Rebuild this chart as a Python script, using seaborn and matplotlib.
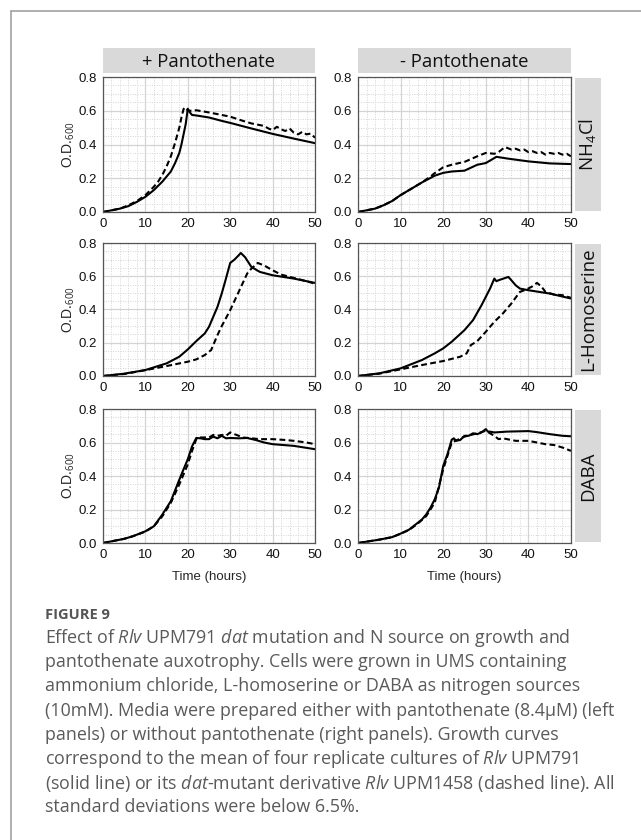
import numpy as np
import pandas as pd
import matplotlib
matplotlib.use("Agg")
import matplotlib.pyplot as plt
from matplotlib.ticker import MultipleLocator
from matplotlib.lines import Line2D
import seaborn as sns

sns.set_style("white")
plt.rcParams['font.family'] = ['Liberation Sans', 'DejaVu Sans']
plt.rcParams['mathtext.fontset'] = 'custom'
plt.rcParams['mathtext.rm'] = 'Open Sans'
plt.rcParams['mathtext.it'] = 'Open Sans:italic'

# ---------------- data (O.D.600 vs time in hours) ----------------
col_labels = ["+ Pantothenate", "- Pantothenate"]
row_labels = ["NH$_4$Cl", "L-Homoserine", "DABA"]
x_ticks = [0, 10, 20, 30, 40, 50]
y_ticks = [0.0, 0.2, 0.4, 0.6, 0.8]

# + Pantothenate, NH4Cl
t_pn_wt = [0, 2, 4, 6, 8, 10, 12, 14, 15, 16, 17, 18, 18.5, 19, 19.5, 20, 20.5, 21, 22, 25, 28, 30, 35, 40, 45, 50]
od_pn_wt = [0.0, 0.01, 0.02, 0.035, 0.06, 0.09, 0.13, 0.18, 0.21, 0.24, 0.29, 0.35, 0.40, 0.46, 0.52, 0.612, 0.59, 0.575, 0.572, 0.56, 0.54, 0.528, 0.495, 0.463, 0.435, 0.408]
t_pn_mu = [0, 2, 4, 6, 8, 10, 12, 13, 14, 15, 16, 17, 18, 18.5, 19, 19.5, 20, 21, 22, 25, 28, 30, 33, 35, 37, 38, 39, 40, 41, 42, 43, 44, 45, 46, 47, 48, 49, 50]
od_pn_mu = [0.0, 0.01, 0.02, 0.04, 0.065, 0.10, 0.15, 0.18, 0.22, 0.27, 0.33, 0.41, 0.50, 0.56, 0.61, 0.62, 0.60, 0.60, 0.603, 0.59, 0.575, 0.565, 0.54, 0.525, 0.515, 0.51, 0.495, 0.485, 0.505, 0.49, 0.48, 0.495, 0.47, 0.46, 0.475, 0.46, 0.465, 0.44]

# - Pantothenate, NH4Cl
t_mn_wt = [0, 2, 4, 6, 8, 10, 12, 15, 18, 20, 22, 25, 28, 30, 32.5, 35, 40, 45, 50]
od_mn_wt = [0.0, 0.01, 0.02, 0.04, 0.065, 0.10, 0.13, 0.175, 0.215, 0.232, 0.24, 0.245, 0.28, 0.29, 0.327, 0.317, 0.30, 0.288, 0.284]
t_mn_mu = [0, 2, 4, 6, 8, 10, 12, 15, 17, 18, 20, 22, 25, 28, 30, 32, 33, 34.5, 36, 37, 38, 39, 40, 41, 42, 43, 44, 45, 46, 47, 48, 49, 50]
od_mn_mu = [0.0, 0.01, 0.02, 0.04, 0.065, 0.10, 0.13, 0.175, 0.21, 0.23, 0.265, 0.28, 0.297, 0.33, 0.35, 0.345, 0.355, 0.385, 0.37, 0.375, 0.365, 0.37, 0.355, 0.36, 0.35, 0.355, 0.34, 0.35, 0.345, 0.35, 0.34, 0.345, 0.33]

# + Pantothenate, L-Homoserine
t_ph_wt = [0, 5, 10, 15, 18, 20, 22, 24, 25, 27, 28, 29, 30, 31, 32, 32.5, 33.5, 35, 37, 40, 45, 50]
od_ph_wt = [0.0, 0.014, 0.036, 0.076, 0.116, 0.16, 0.21, 0.256, 0.296, 0.416, 0.496, 0.586, 0.68, 0.70, 0.726, 0.74, 0.715, 0.656, 0.626, 0.606, 0.586, 0.56]
t_ph_mu = [0, 5, 10, 15, 20, 22, 24, 25.5, 26, 27, 28, 30, 32, 34, 35, 36.5, 38, 40, 42, 45, 48, 50]
od_ph_mu = [0.0, 0.012, 0.035, 0.06, 0.086, 0.10, 0.126, 0.156, 0.186, 0.246, 0.30, 0.396, 0.506, 0.616, 0.646, 0.68, 0.665, 0.636, 0.61, 0.59, 0.57, 0.555]

# - Pantothenate, L-Homoserine
t_mh_wt = [0, 5, 10, 15, 18, 20, 22, 25, 27, 29, 30, 31, 32, 32.5, 33, 35.3, 36, 37, 38, 40, 45, 50]
od_mh_wt = [0.0, 0.016, 0.046, 0.096, 0.136, 0.166, 0.206, 0.276, 0.336, 0.426, 0.476, 0.526, 0.586, 0.57, 0.576, 0.596, 0.576, 0.546, 0.526, 0.516, 0.496, 0.466]
t_mh_mu = [0, 5, 10, 15, 20, 24, 25.5, 26.5, 28, 30, 32, 34, 36, 38, 39.5, 41, 42, 43, 44, 46, 48, 50]
od_mh_mu = [0.0, 0.014, 0.04, 0.066, 0.09, 0.116, 0.136, 0.186, 0.21, 0.266, 0.326, 0.376, 0.436, 0.506, 0.52, 0.54, 0.56, 0.54, 0.506, 0.49, 0.486, 0.47]

# + Pantothenate, DABA
t_pd_wt = [0, 2, 5, 7, 10, 12, 14, 16, 18, 19, 20, 21, 22, 23, 24, 25, 26, 27, 28, 29, 30, 32, 34, 36, 38, 40, 45, 50]
od_pd_wt = [0.0, 0.01, 0.025, 0.04, 0.07, 0.10, 0.17, 0.25, 0.378, 0.44, 0.50, 0.577, 0.627, 0.625, 0.62, 0.62, 0.635, 0.625, 0.64, 0.625, 0.627, 0.625, 0.627, 0.615, 0.60, 0.59, 0.58, 0.56]
t_pd_mu = [0, 2, 5, 7, 10, 12, 14, 16, 18, 20, 21, 22, 23, 25, 26, 27, 28, 29, 30, 31, 33, 35, 37, 40, 43, 45, 48, 50]
od_pd_mu = [0.0, 0.01, 0.025, 0.04, 0.068, 0.10, 0.16, 0.24, 0.35, 0.47, 0.55, 0.62, 0.63, 0.63, 0.645, 0.64, 0.645, 0.64, 0.66, 0.65, 0.63, 0.625, 0.62, 0.62, 0.615, 0.61, 0.60, 0.59]

# - Pantothenate, DABA
t_md_wt = [0, 5, 8, 10, 12, 14, 15, 16, 17, 18, 19, 20, 21, 22, 22.5, 23, 24, 25, 26, 27, 28, 29, 30, 30.5, 31, 32, 35, 40, 42, 45, 48, 50]
od_md_wt = [0.0, 0.02, 0.035, 0.056, 0.08, 0.12, 0.14, 0.17, 0.21, 0.26, 0.33, 0.46, 0.53, 0.617, 0.625, 0.61, 0.615, 0.64, 0.64, 0.655, 0.65, 0.66, 0.68, 0.665, 0.665, 0.66, 0.665, 0.668, 0.662, 0.65, 0.64, 0.637]
t_md_mu = [0, 5, 8, 10, 12, 14, 16, 18, 20, 22, 25, 28, 30, 32, 33, 34, 35, 37, 40, 42, 44, 46, 48, 50]
od_md_mu = [0.0, 0.02, 0.035, 0.055, 0.078, 0.115, 0.16, 0.24, 0.44, 0.60, 0.635, 0.655, 0.67, 0.64, 0.62, 0.625, 0.62, 0.61, 0.61, 0.60, 0.59, 0.585, 0.57, 0.55]

panels = [
    [((t_pn_wt, od_pn_wt), (t_pn_mu, od_pn_mu)), ((t_mn_wt, od_mn_wt), (t_mn_mu, od_mn_mu))],
    [((t_ph_wt, od_ph_wt), (t_ph_mu, od_ph_mu)), ((t_mh_wt, od_mh_wt), (t_mh_mu, od_mh_mu))],
    [((t_pd_wt, od_pd_wt), (t_pd_mu, od_pd_mu)), ((t_md_wt, od_md_wt), (t_md_mu, od_md_mu))],
]

caption_title = "FIGURE 9"
caption_lines = [
    r"Effect of $\it{Rlv}$ UPM791 $\it{dat}$ mutation and N source on growth and",
    "pantothenate auxotrophy. Cells were grown in UMS containing",
    "ammonium chloride, L-homoserine or DABA as nitrogen sources",
    "(10mM). Media were prepared either with pantothenate (8.4\u00b5M) (left",
    "panels) or without pantothenate (right panels). Growth curves",
    r"correspond to the mean of four replicate cultures of $\it{Rlv}$ UPM791",
    r"(solid line) or its $\it{dat}$-mutant derivative $\it{Rlv}$ UPM1458 (dashed line). All",
    "standard deviations were below 6.5%.",
]

# ---------------- layout ----------------
W, H = 641, 840
fig = plt.figure(figsize=(W / 100, H / 100), dpi=100)
fig.patch.set_facecolor("white")

def fx(px):
    return px / W

def fy(py):
    return 1 - py / H

col_x = [(103, 315), (358, 571)]
row_y = [(77, 212), (243, 376), (409, 543)]
strip_gray = "#d9d9d9"
spine_col = "#555555"
strip_font = ["Open Sans", "DejaVu Sans"]

for r in range(3):
    for c in range(2):
        x0, x1 = col_x[c]
        y0, y1 = row_y[r]
        ax = fig.add_axes([fx(x0), fy(y1), fx(x1 - x0), (y1 - y0) / H])
        (tw, ow), (tm, om) = panels[r][c]
        dfw = pd.DataFrame({"t": tw, "od": ow})
        dfm = pd.DataFrame({"t": tm, "od": om})
        sns.lineplot(data=dfw, x="t", y="od", ax=ax, color="black", lw=1.5, estimator=None)
        sns.lineplot(data=dfm, x="t", y="od", ax=ax, color="black", lw=1.5, estimator=None,
                     linestyle=(0, (2.8, 1.6)))
        ax.set_xlim(0, 50)
        ax.set_ylim(0, 0.8)
        ax.set_xticks(x_ticks)
        ax.set_yticks(y_ticks)
        ax.set_yticklabels([f"{v:.1f}" for v in y_ticks])
        ax.xaxis.set_minor_locator(MultipleLocator(2))
        ax.yaxis.set_minor_locator(MultipleLocator(0.05))
        ax.grid(which="major", color="#d4d4d4", lw=0.9, ls="-")
        ax.grid(which="minor", color="#d4d4d4", lw=0.7, ls=(0, (1, 1.5)))
        ax.set_axisbelow(True)
        ax.tick_params(which="major", direction="out", length=3, width=0.8, color=spine_col,
                       labelsize=9.5, pad=1.5, labelcolor="#111111")
        ax.tick_params(which="minor", direction="out", length=1.8, width=0.6, color=spine_col)
        for s in ax.spines.values():
            s.set_color(spine_col)
            s.set_linewidth(0.9)
        ax.set_xlabel("Time (hours)" if r == 2 else "", fontsize=9.5, labelpad=7)
        if c == 0:
            ax.set_ylabel("O.D.$_{600}$", fontsize=10, labelpad=1)
        else:
            ax.set_ylabel("")

        # top strips
        if r == 0:
            sax = fig.add_axes([fx(x0), fy(73), fx(x1 - x0), 25 / H])
            sax.set_facecolor(strip_gray)
            sax.set_xticks([]); sax.set_yticks([])
            for s in sax.spines.values():
                s.set_visible(False)
            sax.text(0.5, 0.45, col_labels[c], ha="center", va="center", fontsize=13.3,
                     family=strip_font, color="#111111", transform=sax.transAxes)
        # right strips
        if c == 1:
            rax = fig.add_axes([fx(575), fy(y1 - 1), fx(26), (y1 - y0 - 2) / H])
            rax.set_facecolor(strip_gray)
            rax.set_xticks([]); rax.set_yticks([])
            for s in rax.spines.values():
                s.set_visible(False)
            rax.text(0.5, 0.5, row_labels[r], ha="center", va="center", rotation=90,
                     fontsize=13.5, family=strip_font, color="#111111",
                     transform=rax.transAxes)

# frame lines
fig.add_artist(Line2D([fx(10.5), fx(10.5)], [fy(11), 0], color="#9a9a9a", lw=1.1))
fig.add_artist(Line2D([fx(10.5), 1], [fy(11), fy(11)], color="#9a9a9a", lw=1.1))

# caption
cap_font = ["Open Sans", "DejaVu Sans"]
fig.text(fx(45), fy(615), caption_title, fontsize=10.5, fontweight="bold", color="#555555",
         family=cap_font, ha="left", va="center")
for i, line in enumerate(caption_lines):
    fig.text(fx(45), fy(638 + i * 24.2), line, fontsize=12.85, color="#5a5a5a",
             family=cap_font, ha="left", va="center")

fig.savefig("out.png", dpi=100, facecolor="white")
